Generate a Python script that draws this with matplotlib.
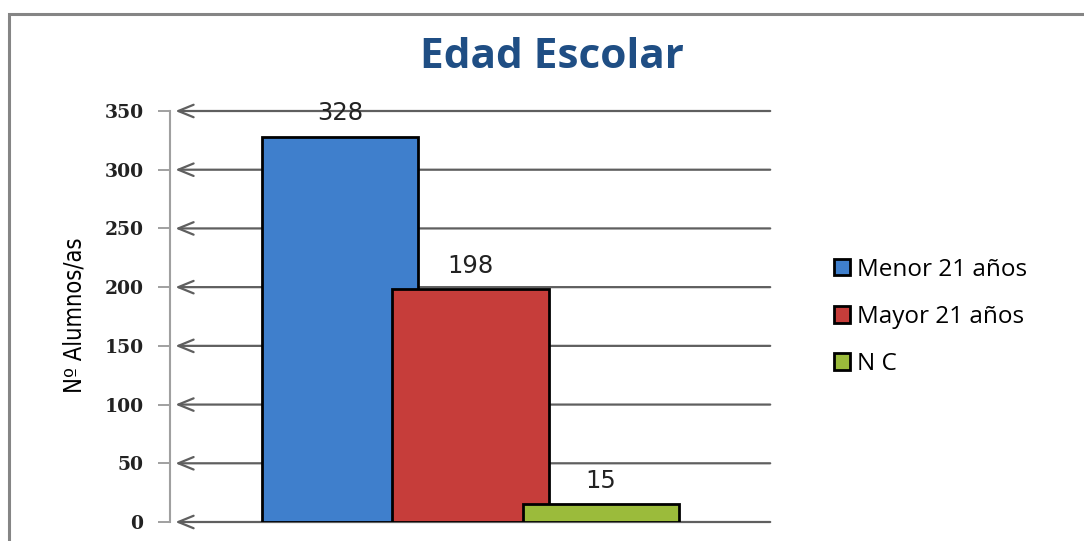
import matplotlib.pyplot as plt
from matplotlib.patches import Rectangle

series = ['Menor 21 años', 'Mayor 21 años', 'N C']
values = [328, 198, 15]
colors = ['#3f7fcc', '#c63d3a', '#9bbb3b']
yticks = [0, 50, 100, 150, 200, 250, 300, 350]

fig = plt.figure(figsize=(10.84, 5.41), dpi=100)
W, H = 1084, 541

# outer chart border (runs off the right/bottom edge like the original)
fig.patches.append(Rectangle((9 / W, -0.1), 1.2, 1.1 - 14 / H, transform=fig.transFigure,
                             fill=False, edgecolor='#858585', linewidth=2.2))

ax = fig.add_axes([170 / W, (H - 522) / H, (773 - 170) / W, (522 - 111) / H])

pos = [0, 1, 2]
xmin, xmax = -1.303, 3.318
ax.set_xlim(xmin, xmax)
ax.set_ylim(0, 350)

# gridlines with arrow heads at the axis
for t in yticks:
    ax.annotate('', xy=(xmin + 0.02, t), xytext=(xmax, t),
                arrowprops=dict(arrowstyle='->,head_length=1.1,head_width=0.45',
                                color='#5f5f5f', lw=1.6), zorder=1)

for p, v, c, s in zip(pos, values, colors, series):
    ax.bar(p, v, width=1.2, color=c, edgecolor='black', linewidth=2, zorder=3 + p, label=s)
    ax.text(p, v + 20, str(v), ha='center', va='center', fontsize=17.5,
            family='DejaVu Sans', color='#222222', zorder=10)

ax.set_yticks(yticks)
ax.set_yticklabels([str(t) for t in yticks], fontsize=13.5, fontweight='bold',
                   family='DejaVu Serif', color='#222222')
ax.tick_params(axis='y', length=9, width=1.2, color='#909090', pad=10)
ax.set_xticks([])
for side in ['top', 'right', 'bottom']:
    ax.spines[side].set_visible(False)
ax.spines['left'].set_color('#a0a0a0')
ax.spines['left'].set_linewidth(1.5)

fig.text(75 / W, (H - 315) / H, 'Nº Alumnos/as', rotation=90, ha='center', va='center',
         fontsize=17, family=['Liberation Sans Narrow', 'DejaVu Sans'], stretch='condensed')

fig.text(552 / W, (H - 57) / H, 'Edad Escolar', ha='center', va='center', fontsize=30.5,
         fontweight='bold', family='Open Sans', color='#1f4e84')

leg = ax.legend(loc='center left', bbox_to_anchor=(812 / W, (H - 317) / H),
                bbox_transform=fig.transFigure, frameon=False,
                handlelength=0.65, handleheight=0.65, handletextpad=0.3, labelspacing=0.95,
                prop={'family': 'Open Sans', 'size': 17.5})

fig.savefig('out.png', dpi=100)
